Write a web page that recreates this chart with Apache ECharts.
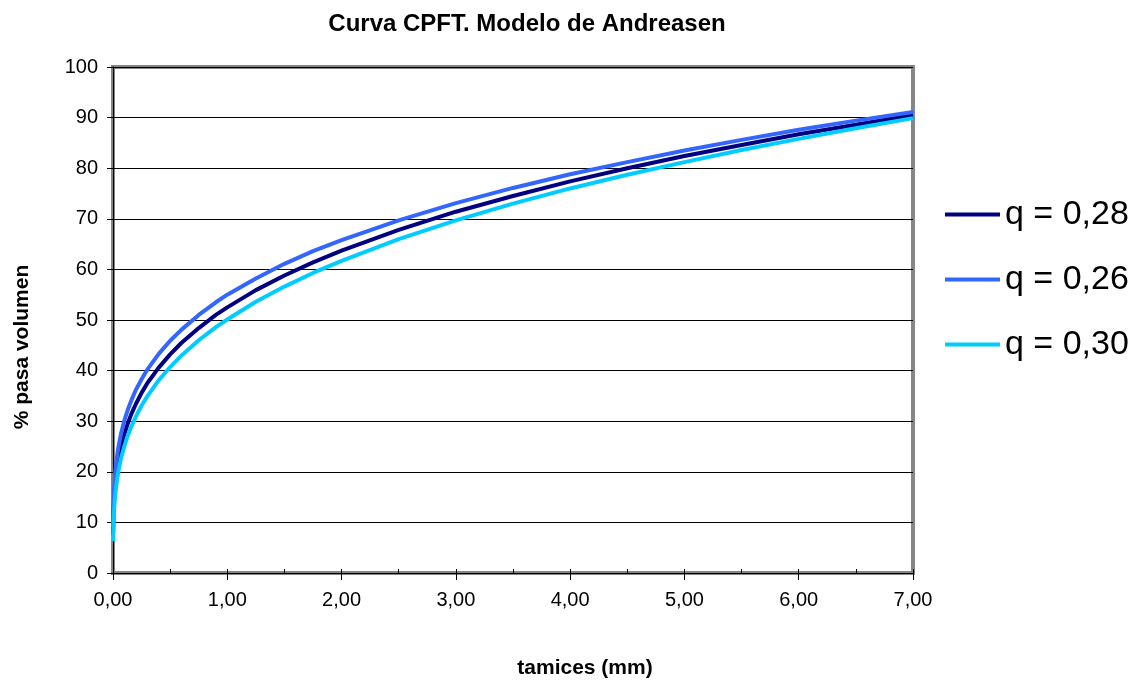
<!DOCTYPE html>
<html>
<head>
<meta charset="utf-8">
<script src="https://cdn.jsdelivr.net/npm/echarts@6/dist/echarts.min.js"></script>
<style>
  html, body { margin: 0; padding: 0; background: #fff; }
  #chart { width: 1143px; height: 684px; }
</style>
</head>
<body>
<div id="chart"></div>
<script>
// Sieve openings (mm) and cumulative percent passing for each distribution modulus q
const sieveSizes = [0.001, 0.002, 0.004, 0.007, 0.01, 0.015, 0.02, 0.03, 0.04, 0.05, 0.07, 0.1, 0.13, 0.16, 0.2, 0.25, 0.3, 0.4, 0.5, 0.6, 0.75, 0.9, 1.0, 1.25, 1.5, 1.75, 2.0, 2.5, 3.0, 3.5, 4.0, 4.5, 5.0, 5.5, 6.0, 6.5, 7.0];
const passQ028 = [7.6, 9.2, 11.2, 13.1, 14.5, 16.2, 17.5, 19.7, 21.3, 22.7, 24.9, 27.5, 29.6, 31.4, 33.4, 35.6, 37.5, 40.6, 43.2, 45.5, 48.4, 51.0, 52.5, 55.9, 58.8, 61.4, 63.7, 67.8, 71.4, 74.5, 77.4, 80.0, 82.4, 84.6, 86.7, 88.6, 90.5];
const passQ026 = [9.1, 10.9, 13.1, 15.1, 16.6, 18.4, 19.9, 22.1, 23.8, 25.2, 27.5, 30.2, 32.3, 34.1, 36.2, 38.3, 40.2, 43.3, 45.9, 48.1, 51.0, 53.5, 55.0, 58.2, 61.1, 63.6, 65.8, 69.7, 73.1, 76.1, 78.8, 81.2, 83.5, 85.6, 87.6, 89.4, 91.1];
const passQ030 = [6.3, 7.8, 9.6, 11.3, 12.6, 14.2, 15.5, 17.5, 19.1, 20.4, 22.6, 25.1, 27.2, 28.9, 30.9, 33.1, 34.9, 38.1, 40.7, 43.0, 46.0, 48.6, 50.1, 53.6, 56.6, 59.3, 61.7, 66.0, 69.7, 73.0, 76.0, 78.7, 81.2, 83.6, 85.8, 87.9, 89.9];
const seriesNames = ['q = 0,28', 'q = 0,26', 'q = 0,30'];
const seriesValues = [passQ028, passQ026, passQ030];
const seriesColors = ['#000080', '#3366FF', '#00CCFF'];

const FONT = '"Liberation Sans", Arial, sans-serif';

const chart = echarts.init(document.getElementById('chart'), null, { renderer: 'canvas' });

const series = seriesNames.map((name, i) => ({
  name,
  type: 'line',
  xAxisIndex: 0,
  yAxisIndex: 0,
  data: sieveSizes.map((x, k) => [x, seriesValues[i][k]]),
  showSymbol: false,
  smooth: false,
  lineStyle: { width: 4, color: seriesColors[i], join: 'round', cap: 'butt' },
  itemStyle: { color: seriesColors[i] },
  animation: false
}));

chart.setOption({
  animation: false,
  backgroundColor: '#ffffff',
  title: {
    text: 'Curva CPFT. Modelo de Andreasen',
    left: 522,
    textAlign: 'center',
    top: 7,
    textStyle: { fontFamily: FONT, fontSize: 24, fontWeight: 'bold', color: '#000' }
  },
  legend: {
    orient: 'vertical',
    left: 940,
    top: 191,
    icon: 'rect',
    itemWidth: 55,
    itemHeight: 4,
    itemGap: 28,
    data: seriesNames,
    textStyle: { fontFamily: FONT, fontSize: 34, color: '#000', lineHeight: 37 }
  },
  grid: {
    left: 113, right: 230, top: 67, bottom: 111,
    show: true,
    borderColor: '#868686',
    borderWidth: 4,
    backgroundColor: '#ffffff'
  },
  xAxis: [{
    type: 'value',
    min: 0, max: 7, interval: 1,
    axisLine: { show: true, onZero: false, lineStyle: { color: '#000', width: 1 } },
    axisTick: { show: true, inside: false, length: 7, lineStyle: { color: '#000' } },
    axisLabel: {
      fontFamily: FONT, fontSize: 20, color: '#000', margin: 17,
      formatter: v => v.toFixed(2).replace('.', ',')
    },
    splitLine: { show: false }
  }, {
    type: 'value',
    position: 'bottom',
    min: 0, max: 7, interval: 0.5,
    axisLine: { show: false },
    axisTick: { show: true, inside: true, length: 4, lineStyle: { color: '#000' } },
    axisLabel: { show: false },
    splitLine: { show: false }
  }],
  yAxis: {
    type: 'value',
    min: 0, max: 100, interval: 10,
    axisLine: { show: true, onZero: false, lineStyle: { color: '#000', width: 1 } },
    axisTick: { show: true, inside: false, length: 6, lineStyle: { color: '#000' } },
    axisLabel: { fontFamily: FONT, fontSize: 20, color: '#000', margin: 15 },
    splitLine: { show: true, lineStyle: { color: '#000', width: 1 } }
  },
  graphic: [{
    type: 'text',
    x: 585, y: 668,
    style: { text: 'tamices (mm)', fontFamily: FONT, fontSize: 21, fontWeight: 'bold', fill: '#000', align: 'center', verticalAlign: 'middle' }
  }, {
    type: 'text',
    x: 22, y: 347,
    rotation: Math.PI / 2,
    style: { text: '% pasa volumen', fontFamily: FONT, fontSize: 21, fontWeight: 'bold', fill: '#000', align: 'center', verticalAlign: 'middle' }
  }],
  series
});
</script>
</body>
</html>
